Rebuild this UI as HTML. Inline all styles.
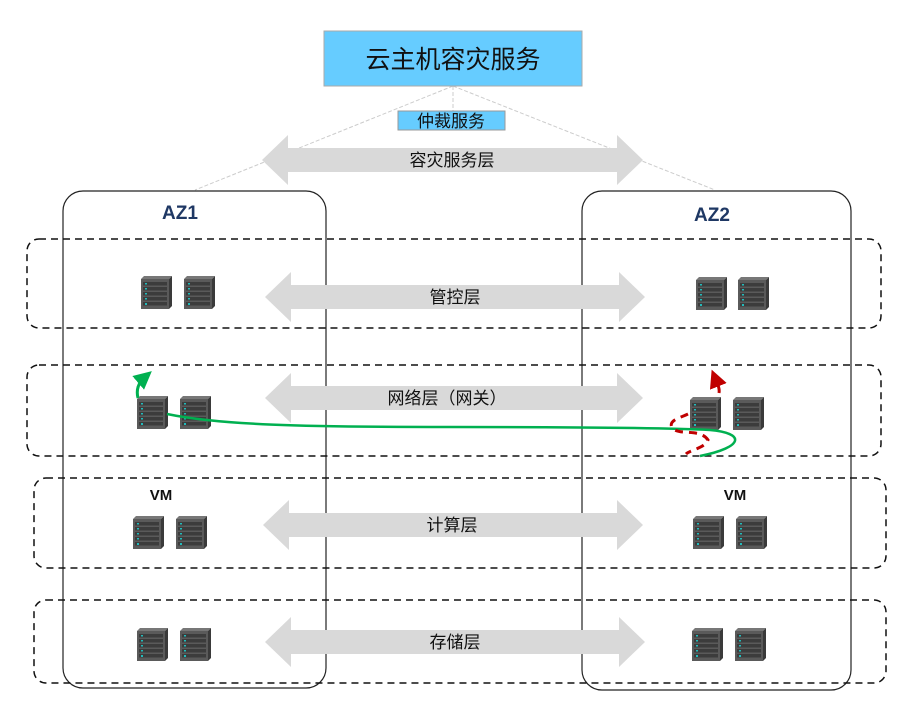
<!DOCTYPE html>
<html><head><meta charset="utf-8"><style>
body{margin:0;background:#fff;}
svg text{font-family:"Liberation Sans","Noto Sans CJK SC",sans-serif;}
</style></head><body>
<svg width="905" height="707" viewBox="0 0 905 707" xmlns="http://www.w3.org/2000/svg">
<defs>
<g id="srv">
<polygon points="0,3 3,0 31,0 28,3" fill="#777"/>
<rect x="0" y="3" width="28" height="30" fill="#5a5a5a"/>
<polygon points="28,3 31,0 31,30 28,33" fill="#3a3a3a"/>
<rect x="2" y="6" width="24" height="3.5" fill="#3c3c3c"/>
<rect x="2" y="11" width="24" height="3.5" fill="#3c3c3c"/>
<rect x="2" y="16" width="24" height="3.5" fill="#3c3c3c"/>
<rect x="2" y="21" width="24" height="3.5" fill="#3c3c3c"/>
<rect x="2" y="26" width="24" height="3.5" fill="#3c3c3c"/>
<rect x="4" y="7" width="2" height="1.5" fill="#2bb"/>
<rect x="4" y="12" width="2" height="1.5" fill="#2bb"/>
<rect x="4" y="17" width="2" height="1.5" fill="#2bb"/>
<rect x="4" y="22" width="2" height="1.5" fill="#2bb"/>
<rect x="4" y="27" width="2" height="2" fill="#2bb"/>
</g>
<marker id="ga" markerWidth="6" markerHeight="6" refX="3" refY="3" orient="auto"><path d="M0,0 L6,3 L0,6 Z" fill="#00b050"/></marker>
<marker id="ra" markerWidth="6" markerHeight="6" refX="3" refY="3" orient="auto"><path d="M0,0 L6,3 L0,6 Z" fill="#c00000"/></marker>
</defs>
<g stroke="#ccc" stroke-width="1" stroke-dasharray="4,2" fill="none">
<line x1="453" y1="86" x2="195" y2="190"/>
<line x1="453" y1="86" x2="715" y2="190"/>
<line x1="453" y1="86" x2="453" y2="111"/>
</g>
<rect x="324" y="31" width="258" height="55" fill="#66ccff" stroke="#aaa"/>
<text x="453" y="68" font-size="25" text-anchor="middle" fill="#111">云主机容灾服务</text>
<rect x="398" y="111" width="107" height="19" fill="#66ccff" stroke="#999"/>
<text x="451" y="127" font-size="17" text-anchor="middle" fill="#111">仲裁服务</text>
<rect x="63" y="191" width="263" height="497" rx="20" fill="none" stroke="#222" stroke-width="1.2"/>
<rect x="582" y="191" width="269" height="499" rx="20" fill="none" stroke="#222" stroke-width="1.2"/>
<text x="180" y="219" font-size="19" font-weight="bold" text-anchor="middle" fill="#1f3864">AZ1</text>
<text x="712" y="221" font-size="19" font-weight="bold" text-anchor="middle" fill="#1f3864">AZ2</text>
<g fill="none" stroke="#111" stroke-width="1.5" stroke-dasharray="7,5">
<rect x="27" y="239" width="854" height="89" rx="12"/>
<rect x="27" y="365" width="854" height="91" rx="12"/>
<rect x="34" y="478" width="852" height="90" rx="12"/>
<rect x="34" y="600" width="852" height="83" rx="12"/>
</g>
<g fill="#d9d9d9">
<polygon points="262,160 288,135 288,148 617,148 617,135 643,160 617,185 617,172 288,172 288,185"/>
<polygon points="265,297 291,272 291,285 619,285 619,272 645,297 619,322 619,309 291,309 291,322"/>
<polygon points="265,398 291,373 291,386 617,386 617,373 643,398 617,423 617,410 291,410 291,423"/>
<polygon points="263,525 289,500 289,513 617,513 617,500 643,525 617,550 617,537 289,537 289,550"/>
<polygon points="265,642 291,617 291,630 619,630 619,617 645,642 619,667 619,654 291,654 291,667"/>
</g>
<g font-size="17" fill="#111" text-anchor="middle">
<text x="452" y="166">容灾服务层</text>
<text x="455" y="303">管控层</text>
<text x="447" y="404">网络层（网关）</text>
<text x="452" y="531">计算层</text>
<text x="455" y="648">存储层</text>
</g>
<text x="161" y="500" font-size="15" font-weight="bold" text-anchor="middle" fill="#111">VM</text>
<text x="735" y="500" font-size="15" font-weight="bold" text-anchor="middle" fill="#111">VM</text>
<use href="#srv" x="141" y="276"/><use href="#srv" x="184" y="276"/>
<use href="#srv" x="696" y="277"/><use href="#srv" x="738" y="277"/>
<use href="#srv" x="137" y="396"/><use href="#srv" x="180" y="396"/>
<use href="#srv" x="690" y="397"/><use href="#srv" x="733" y="397"/>
<use href="#srv" x="133" y="516"/><use href="#srv" x="176" y="516"/>
<use href="#srv" x="693" y="516"/><use href="#srv" x="736" y="516"/>
<use href="#srv" x="137" y="628"/><use href="#srv" x="180" y="628"/>
<use href="#srv" x="692" y="628"/><use href="#srv" x="735" y="628"/>
<path d="M167,414 C220,425 300,427 450,427 C600,427 670,428 710,430 C745,433 745,447 700,456" fill="none" stroke="#00b050" stroke-width="2.5"/>
<path d="M138,398 C136,390 138,383 145,377" fill="none" stroke="#00b050" stroke-width="3" marker-end="url(#ga)"/>
<path d="M719,393 C720,388 717,383 715,378" fill="none" stroke="#c00000" stroke-width="3" marker-end="url(#ra)"/>
<path d="M688,414 C680,418 668,420 672,428 C680,436 700,428 708,440 C705,448 690,450 686,454" fill="none" stroke="#c00000" stroke-width="3" stroke-dasharray="8,6"/>
</svg>
</body></html>
